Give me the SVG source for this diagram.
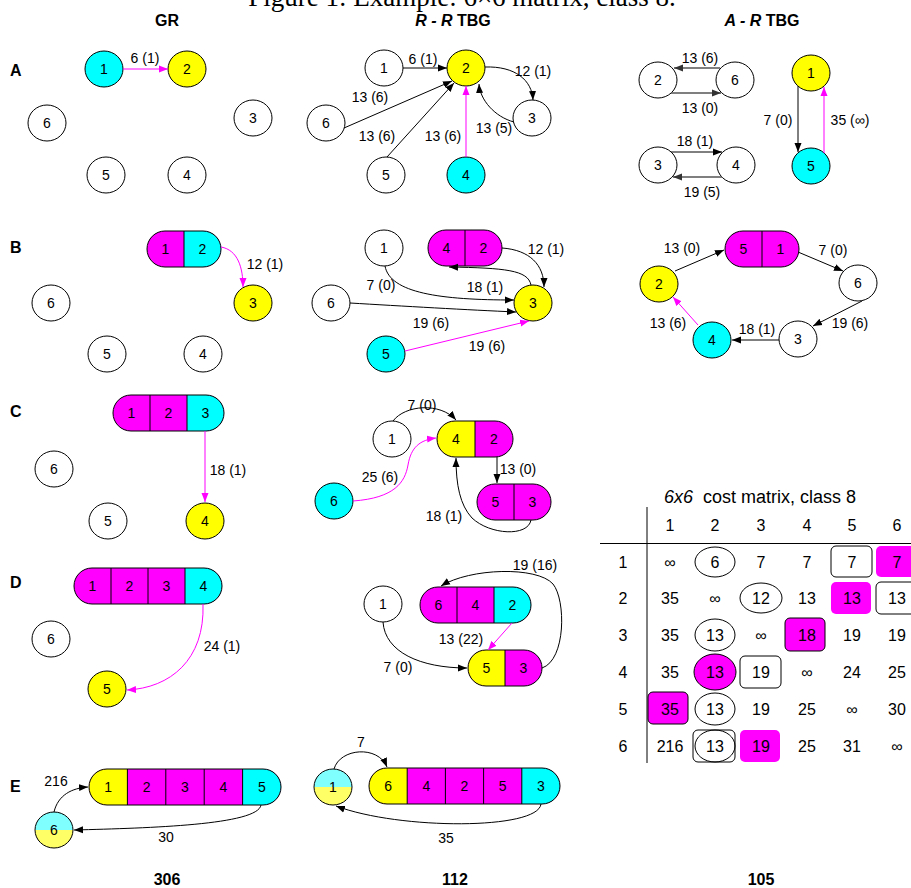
<svg xmlns="http://www.w3.org/2000/svg" width="911" height="888" viewBox="0 0 911 888">
<style>
text{font-family:"Liberation Sans",Arial,sans-serif;font-size:14px;text-anchor:middle;fill:#000}
.cap{font-family:"Liberation Serif","Times New Roman",serif;font-size:27px}
.hd{font-weight:bold;font-size:16px}
.rl{font-weight:bold;font-size:16px;text-anchor:start}
.mx{font-size:16px}
.mt{font-size:18px}
.n{fill:#fff;stroke:#000;stroke-width:1}
.c{fill:#00ffff}.y{fill:#ffff00}.m{fill:#ff00ff}
.lc{fill:#80ffff}.ly{fill:#ffff66}
.o{fill:none;stroke:#000;stroke-width:1}
.e{fill:none;stroke:#000;stroke-width:1;marker-end:url(#ab)}
.eg{fill:none;stroke:#555;stroke-width:1.3;marker-end:url(#ag)}
.em{fill:none;stroke:#ff00ff;stroke-width:1;marker-end:url(#am)}
.bx{stroke:#000;stroke-width:1}
</style>
<defs>
<marker id="ab" markerWidth="10" markerHeight="8" refX="9" refY="4" orient="auto" markerUnits="userSpaceOnUse"><path d="M0,0.5 L9,4 L0,7.5 z" fill="#000"/></marker>
<marker id="ag" markerWidth="10" markerHeight="8" refX="9" refY="4" orient="auto" markerUnits="userSpaceOnUse"><path d="M0,0.5 L9,4 L0,7.5 z" fill="#333"/></marker>
<marker id="am" markerWidth="10" markerHeight="8" refX="9" refY="4" orient="auto" markerUnits="userSpaceOnUse"><path d="M0,0.5 L9,4 L0,7.5 z" fill="#ff00ff"/></marker>
</defs>
<rect width="911" height="888" fill="#fff"/>
<text class="cap" x="462" y="6">Figure 1: Example: 6×6 matrix, class 8.</text>
<g id="titles">
<text class="hd" x="167" y="26">GR</text>
<text class="hd" x="453" y="26"><tspan font-style="italic">R - R</tspan> TBG</text>
<text class="hd" x="762" y="26"><tspan font-style="italic">A - R</tspan> TBG</text>
<text class="rl" x="10" y="76">A</text>
<text class="rl" x="10" y="253">B</text>
<text class="rl" x="10" y="417">C</text>
<text class="rl" x="10" y="588">D</text>
<text class="rl" x="10" y="792">E</text>
<text class="hd" x="167" y="885">306</text>
<text class="hd" x="455" y="885">112</text>
<text class="hd" x="761" y="885">105</text>
</g>

<!-- Row A GR -->
<g id="gr-a-1"><ellipse class="n c" cx="104" cy="69" rx="19" ry="18"/><text x="104" y="74">1</text></g>
<g id="gr-a-2"><ellipse class="n y" cx="187" cy="69" rx="19" ry="18"/><text x="187" y="74">2</text></g>
<g id="gr-a-6"><ellipse class="n" cx="47" cy="123" rx="19" ry="18"/><text x="47" y="128">6</text></g>
<g id="gr-a-3"><ellipse class="n" cx="253" cy="118" rx="19" ry="18"/><text x="253" y="123">3</text></g>
<g id="gr-a-5"><ellipse class="n" cx="106" cy="175" rx="19" ry="18"/><text x="106" y="180">5</text></g>
<g id="gr-a-4"><ellipse class="n" cx="187" cy="175" rx="19" ry="18"/><text x="187" y="180">4</text></g>

<!-- Row A R-R -->
<g id="rr-a-1"><ellipse class="n" cx="384" cy="68" rx="19" ry="18"/><text x="384" y="73">1</text></g>
<g id="rr-a-2"><ellipse class="n y" cx="466" cy="68" rx="19" ry="18"/><text x="466" y="73">2</text></g>
<g id="rr-a-6"><ellipse class="n" cx="326" cy="123" rx="19" ry="18"/><text x="326" y="128">6</text></g>
<g id="rr-a-3"><ellipse class="n" cx="532" cy="118" rx="19" ry="18"/><text x="532" y="123">3</text></g>
<g id="rr-a-5"><ellipse class="n" cx="386" cy="175" rx="19" ry="18"/><text x="386" y="180">5</text></g>
<g id="rr-a-4"><ellipse class="n c" cx="466" cy="175" rx="19" ry="18"/><text x="466" y="180">4</text></g>

<!-- Row A A-R -->
<g id="ar-a-2"><ellipse class="n" cx="658" cy="80" rx="19" ry="18"/><text x="658" y="85">2</text></g>
<g id="ar-a-6"><ellipse class="n" cx="735" cy="80" rx="19" ry="18"/><text x="735" y="85">6</text></g>
<g id="ar-a-3"><ellipse class="n" cx="658" cy="165" rx="19" ry="18"/><text x="658" y="170">3</text></g>
<g id="ar-a-4"><ellipse class="n" cx="736" cy="165" rx="19" ry="18"/><text x="736" y="170">4</text></g>
<g id="ar-a-1"><ellipse class="n y" cx="811" cy="73" rx="19" ry="18"/><text x="811" y="78">1</text></g>
<g id="ar-a-5"><ellipse class="n c" cx="811" cy="166" rx="19" ry="18"/><text x="811" y="171">5</text></g>

<!-- Row B GR -->
<g id="gr-b-12">
<rect class="m" x="147" y="231" width="74" height="36" rx="18"/>
<path class="c" d="M184,231 H203 A18,18 0 0 1 203,267 H184 Z"/>
<rect class="o" x="147" y="231" width="74" height="36" rx="18"/>
<line class="o" x1="184" y1="231" x2="184" y2="267"/>
<text x="165.5" y="254">1</text><text x="202.5" y="254">2</text>
</g>
<g id="gr-b-3"><ellipse class="n y" cx="253" cy="303" rx="19" ry="18"/><text x="253" y="308">3</text></g>
<g id="gr-b-6"><ellipse class="n" cx="51" cy="303" rx="19" ry="18"/><text x="51" y="308">6</text></g>
<g id="gr-b-5"><ellipse class="n" cx="107" cy="354" rx="19" ry="18"/><text x="107" y="359">5</text></g>
<g id="gr-b-4"><ellipse class="n" cx="203" cy="354" rx="19" ry="18"/><text x="203" y="359">4</text></g>

<!-- Row B R-R -->
<g id="rr-b-1"><ellipse class="n" cx="384" cy="248" rx="19" ry="18"/><text x="384" y="253">1</text></g>
<g id="rr-b-42">
<rect class="m bx" x="428" y="230" width="74" height="36" rx="18"/>
<line class="o" x1="465" y1="230" x2="465" y2="266"/>
<text x="446.5" y="253">4</text><text x="483.5" y="253">2</text>
</g>
<g id="rr-b-3"><ellipse class="n y" cx="533" cy="303" rx="19" ry="18"/><text x="533" y="308">3</text></g>
<g id="rr-b-6"><ellipse class="n" cx="331" cy="303" rx="19" ry="18"/><text x="331" y="308">6</text></g>
<g id="rr-b-5"><ellipse class="n c" cx="386" cy="354" rx="19" ry="18"/><text x="386" y="359">5</text></g>

<!-- Row B A-R -->
<g id="ar-b-51">
<rect class="m bx" x="725" y="231" width="74" height="36" rx="18"/>
<line class="o" x1="762" y1="231" x2="762" y2="267"/>
<text x="743.5" y="254">5</text><text x="780.5" y="254">1</text>
</g>
<g id="ar-b-2"><ellipse class="n y" cx="659" cy="284" rx="19" ry="18"/><text x="659" y="289">2</text></g>
<g id="ar-b-6"><ellipse class="n" cx="858" cy="283" rx="19" ry="18"/><text x="858" y="288">6</text></g>
<g id="ar-b-3"><ellipse class="n" cx="798" cy="339" rx="19" ry="18"/><text x="798" y="344">3</text></g>
<g id="ar-b-4"><ellipse class="n c" cx="712" cy="340" rx="19" ry="18"/><text x="712" y="345">4</text></g>

<!-- Row C GR -->
<g id="gr-c-123">
<rect class="m" x="113" y="395" width="111" height="36" rx="18"/>
<path class="c" d="M187,395 H206 A18,18 0 0 1 206,431 H187 Z"/>
<rect class="o" x="113" y="395" width="111" height="36" rx="18"/>
<line class="o" x1="150" y1="395" x2="150" y2="431"/>
<line class="o" x1="187" y1="395" x2="187" y2="431"/>
<text x="131.5" y="418">1</text><text x="168.5" y="418">2</text><text x="205.5" y="418">3</text>
</g>
<g id="gr-c-6"><ellipse class="n" cx="54" cy="469" rx="19" ry="18"/><text x="54" y="474">6</text></g>
<g id="gr-c-5"><ellipse class="n" cx="108" cy="521" rx="19" ry="18"/><text x="108" y="526">5</text></g>
<g id="gr-c-4"><ellipse class="n y" cx="205" cy="521" rx="19" ry="18"/><text x="205" y="526">4</text></g>

<!-- Row C R-R -->
<g id="rr-c-1"><ellipse class="n" cx="392" cy="439" rx="19" ry="18"/><text x="392" y="444">1</text></g>
<g id="rr-c-42">
<rect class="m" x="437" y="421" width="76" height="36" rx="18"/>
<path class="y" d="M455,421 H475 V457 H455 A18,18 0 0 1 455,421 Z"/>
<rect class="o" x="437" y="421" width="76" height="36" rx="18"/>
<line class="o" x1="475" y1="421" x2="475" y2="457"/>
<text x="456" y="444">4</text><text x="494" y="444">2</text>
</g>
<g id="rr-c-53">
<rect class="m bx" x="477" y="484" width="74" height="36" rx="18"/>
<line class="o" x1="514" y1="484" x2="514" y2="520"/>
<text x="495.5" y="507">5</text><text x="532.5" y="507">3</text>
</g>
<g id="rr-c-6"><ellipse class="n c" cx="334" cy="501" rx="19" ry="18"/><text x="334" y="506">6</text></g>

<!-- Row D GR -->
<g id="gr-d-1234">
<rect class="m" x="74" y="568" width="148" height="36" rx="18"/>
<path class="c" d="M185,568 H204 A18,18 0 0 1 204,604 H185 Z"/>
<rect class="o" x="74" y="568" width="148" height="36" rx="18"/>
<line class="o" x1="111" y1="568" x2="111" y2="604"/>
<line class="o" x1="148" y1="568" x2="148" y2="604"/>
<line class="o" x1="185" y1="568" x2="185" y2="604"/>
<text x="92.5" y="591">1</text><text x="129.5" y="591">2</text><text x="166.5" y="591">3</text><text x="203.5" y="591">4</text>
</g>
<g id="gr-d-6"><ellipse class="n" cx="51" cy="639" rx="19" ry="18"/><text x="51" y="644">6</text></g>
<g id="gr-d-5"><ellipse class="n y" cx="107" cy="689" rx="19" ry="18"/><text x="107" y="694">5</text></g>

<!-- Row D R-R -->
<g id="rr-d-1"><ellipse class="n" cx="383" cy="604" rx="19" ry="18"/><text x="383" y="609">1</text></g>
<g id="rr-d-642">
<rect class="m" x="420" y="587" width="111" height="36" rx="18"/>
<path class="c" d="M494,587 H513 A18,18 0 0 1 513,623 H494 Z"/>
<rect class="o" x="420" y="587" width="111" height="36" rx="18"/>
<line class="o" x1="457" y1="587" x2="457" y2="623"/>
<line class="o" x1="494" y1="587" x2="494" y2="623"/>
<text x="438.5" y="610">6</text><text x="475.5" y="610">4</text><text x="512.5" y="610">2</text>
</g>
<g id="rr-d-53">
<rect class="m" x="468" y="650" width="74" height="36" rx="18"/>
<path class="y" d="M486,650 H505 V686 H486 A18,18 0 0 1 486,650 Z"/>
<rect class="o" x="468" y="650" width="74" height="36" rx="18"/>
<line class="o" x1="505" y1="650" x2="505" y2="686"/>
<text x="486.5" y="673">5</text><text x="523.5" y="673">3</text>
</g>

<!-- Row E GR -->
<g id="gr-e-12345">
<rect class="m" x="89" y="769" width="192" height="36" rx="18"/>
<path class="y" d="M107,769 H127.4 V805 H107 A18,18 0 0 1 107,769 Z"/>
<path class="c" d="M242.6,769 H263 A18,18 0 0 1 263,805 H242.6 Z"/>
<rect class="o" x="89" y="769" width="192" height="36" rx="18"/>
<line class="o" x1="127.4" y1="769" x2="127.4" y2="805"/>
<line class="o" x1="165.8" y1="769" x2="165.8" y2="805"/>
<line class="o" x1="204.2" y1="769" x2="204.2" y2="805"/>
<line class="o" x1="242.6" y1="769" x2="242.6" y2="805"/>
<text x="108.2" y="792">1</text><text x="146.6" y="792">2</text><text x="185" y="792">3</text><text x="223.4" y="792">4</text><text x="261.8" y="792">5</text>
</g>
<g id="gr-e-6">
<path class="lc" d="M35,830 A19,18 0 0 1 73,830 Z"/>
<path class="ly" d="M35,830 A19,18 0 0 0 73,830 Z"/>
<ellipse class="o" cx="54" cy="830" rx="19" ry="18"/>
<text x="54" y="835">6</text>
</g>

<!-- Row E R-R -->
<g id="rr-e-1">
<path class="lc" d="M314,787 A19,18 0 0 1 352,787 Z"/>
<path class="ly" d="M314,787 A19,18 0 0 0 352,787 Z"/>
<ellipse class="o" cx="333" cy="787" rx="19" ry="18"/>
<text x="333" y="792">1</text>
</g>
<g id="rr-e-64253">
<rect class="m" x="369" y="768" width="191" height="36" rx="18"/>
<path class="y" d="M387,768 H407.2 V804 H387 A18,18 0 0 1 387,768 Z"/>
<path class="c" d="M521.8,768 H542 A18,18 0 0 1 542,804 H521.8 Z"/>
<rect class="o" x="369" y="768" width="191" height="36" rx="18"/>
<line class="o" x1="407.2" y1="768" x2="407.2" y2="804"/>
<line class="o" x1="445.4" y1="768" x2="445.4" y2="804"/>
<line class="o" x1="483.6" y1="768" x2="483.6" y2="804"/>
<line class="o" x1="521.8" y1="768" x2="521.8" y2="804"/>
<text x="388.1" y="791">6</text><text x="426.3" y="791">4</text><text x="464.5" y="791">2</text><text x="502.7" y="791">5</text><text x="540.9" y="791">3</text>
</g>

<!-- Connectors -->
<g id="connectors">
<path class="em" d="M123,69 L168,69"/>
<path class="e" d="M403,68 L447,68"/>
<path class="e" d="M485,67 C515,66 532,80 533,100"/>
<path class="e" d="M514,122 C495,117 480,100 479,84"/>
<path class="e" d="M344,128 L452,81"/>
<path class="e" d="M387,157 L454,83" stroke-width="0.8"/>
<path class="em" d="M466,157 L466,86"/>
<path class="eg" d="M720,68 L674,68"/>
<path class="eg" d="M671,93 L721,93"/>
<path class="e" d="M671,152 L722,152"/>
<path class="eg" d="M722,177 L673,177"/>
<path class="e" d="M798,86 L798,152"/>
<path class="em" d="M824,153 L824,87"/>

<path class="em" d="M221,247 C238,250 243,268 243,287"/>
<path class="e" d="M502,248 C530,250 544,265 544,287"/>
<path class="e" d="M531,285 C528,270 505,268 449,267"/>
<path class="e" d="M385,266 C390,293 440,300 514,300"/>
<path class="e" d="M350,303 C400,306 470,310 516,312"/>
<path class="em" d="M405,351 L529,321"/>
<path class="e" d="M675,271 L724,250"/>
<path class="e" d="M798,252 L843,271"/>
<path class="e" d="M862,301 L813,326"/>
<path class="e" d="M779,340 L732,340"/>
<path class="em" d="M698,325 L673,297"/>

<path class="em" d="M205,431 L205,502"/>
<path class="e" d="M393,421 C405,405 440,402 456,420"/>
<path class="em" d="M353,501 C395,498 405,482 408,465 C411,447 420,440 436,438"/>
<path class="e" d="M497,457 L497,483"/>
<path class="e" d="M531,520 C528,537 490,535 472,518 C460,505 456,485 456,458"/>

<path class="em" d="M203,604 C205,660 170,688 127,690"/>
<path class="e" d="M383,622 C385,652 420,668 467,668"/>
<path class="em" d="M512,623 L488,650"/>
<path class="e" d="M542,668 C566,660 566,600 553,584 C537,566 470,568 441,586"/>

<path class="e" d="M54,812 C58,795 72,788 88,787"/>
<path class="e" d="M261,805 C258,825 150,828 74,830"/>
<path class="e" d="M334,769 C340,748 378,745 387,767"/>
<path class="e" d="M541,804 C538,830 400,830 336,806"/>

<text x="145" y="63">6 (1)</text>
<text x="423" y="64">6 (1)</text>
<text x="533" y="76">12 (1)</text>
<text x="494" y="133">13 (5)</text>
<text x="370" y="102">13 (6)</text>
<text x="377" y="141">13 (6)</text>
<text x="443" y="141">13 (6)</text>
<text x="700" y="63">13 (6)</text>
<text x="700" y="113">13 (0)</text>
<text x="695" y="146">18 (1)</text>
<text x="702" y="197">19 (5)</text>
<text x="778" y="125">7 (0)</text>
<text x="850" y="125">35 (∞)</text>

<text x="265" y="269">12 (1)</text>
<text x="546" y="254">12 (1)</text>
<text x="485" y="292">18 (1)</text>
<text x="381" y="290">7 (0)</text>
<text x="431" y="328">19 (6)</text>
<text x="487" y="351">19 (6)</text>
<text x="682" y="253">13 (0)</text>
<text x="833" y="255">7 (0)</text>
<text x="850" y="328">19 (6)</text>
<text x="757" y="334">18 (1)</text>
<text x="668" y="328">13 (6)</text>

<text x="228" y="475">18 (1)</text>
<text x="422" y="410">7 (0)</text>
<text x="380" y="482">25 (6)</text>
<text x="518" y="474">13 (0)</text>
<text x="444" y="521">18 (1)</text>

<text x="222" y="651">24 (1)</text>
<text x="398" y="672">7 (0)</text>
<text x="461" y="644">13 (22)</text>
<text x="535" y="570">19 (16)</text>

<text x="56" y="786">216</text>
<text x="166" y="842">30</text>
<text x="361" y="747">7</text>
<text x="446" y="843">35</text>
</g>

<!-- Matrix -->
<g id="matrix">
<text class="mt" x="760" y="503"><tspan font-style="italic">6x6</tspan><tspan dx="5"> cost matrix, class 8</tspan></text>
<line class="o" x1="647" y1="507" x2="647" y2="763"/>
<line class="o" x1="600" y1="543.5" x2="911" y2="543.5"/>
<ellipse class="n" cx="715" cy="562" rx="20" ry="15"/>
<rect class="n" x="831" y="546" width="41" height="31" rx="5"/>
<rect class="m" x="876" y="546" width="41" height="31" rx="5"/>
<ellipse class="n" cx="761" cy="598" rx="21" ry="15"/>
<rect class="m" x="831" y="582" width="40" height="32" rx="5"/>
<rect class="n" x="876" y="582" width="41" height="32" rx="5"/>
<ellipse class="n" cx="715" cy="635" rx="20" ry="16"/>
<rect class="m bx" x="785" y="618" width="40" height="33" rx="5"/>
<ellipse class="m bx" cx="715" cy="672" rx="21" ry="18"/>
<rect class="n" x="740" y="656" width="41" height="32" rx="5"/>
<rect class="m bx" x="648" y="692" width="40" height="32" rx="5"/>
<ellipse class="n" cx="715" cy="709" rx="20" ry="16"/>
<rect class="n" x="693" y="730" width="42" height="32" rx="5"/>
<ellipse class="o" cx="715" cy="746" rx="20" ry="16"/>
<rect class="m" x="740" y="730" width="40" height="32" rx="5"/>
<g class="mx">
<text class="mx" x="670" y="531">1</text><text class="mx" x="715" y="531">2</text><text class="mx" x="761" y="531">3</text><text class="mx" x="807" y="531">4</text><text class="mx" x="852" y="531">5</text><text class="mx" x="897" y="531">6</text>
<text class="mx" x="623" y="568">1</text><text class="mx" x="623" y="604">2</text><text class="mx" x="623" y="641">3</text><text class="mx" x="623" y="678">4</text><text class="mx" x="623" y="715">5</text><text class="mx" x="623" y="752">6</text>
<text class="mx" x="670" y="568">∞</text><text class="mx" x="715" y="568">6</text><text class="mx" x="761" y="568">7</text><text class="mx" x="807" y="568">7</text><text class="mx" x="852" y="568">7</text><text class="mx" x="897" y="568">7</text>
<text class="mx" x="670" y="604">35</text><text class="mx" x="715" y="604">∞</text><text class="mx" x="761" y="604">12</text><text class="mx" x="807" y="604">13</text><text class="mx" x="852" y="604">13</text><text class="mx" x="897" y="604">13</text>
<text class="mx" x="670" y="641">35</text><text class="mx" x="715" y="641">13</text><text class="mx" x="761" y="641">∞</text><text class="mx" x="807" y="641">18</text><text class="mx" x="852" y="641">19</text><text class="mx" x="897" y="641">19</text>
<text class="mx" x="670" y="678">35</text><text class="mx" x="715" y="678">13</text><text class="mx" x="761" y="678">19</text><text class="mx" x="807" y="678">∞</text><text class="mx" x="852" y="678">24</text><text class="mx" x="897" y="678">25</text>
<text class="mx" x="670" y="715">35</text><text class="mx" x="715" y="715">13</text><text class="mx" x="761" y="715">19</text><text class="mx" x="807" y="715">25</text><text class="mx" x="852" y="715">∞</text><text class="mx" x="897" y="715">30</text>
<text class="mx" x="670" y="752">216</text><text class="mx" x="715" y="752">13</text><text class="mx" x="761" y="752">19</text><text class="mx" x="807" y="752">25</text><text class="mx" x="852" y="752">31</text><text class="mx" x="897" y="752">∞</text>
</g>
</g>
</svg>
